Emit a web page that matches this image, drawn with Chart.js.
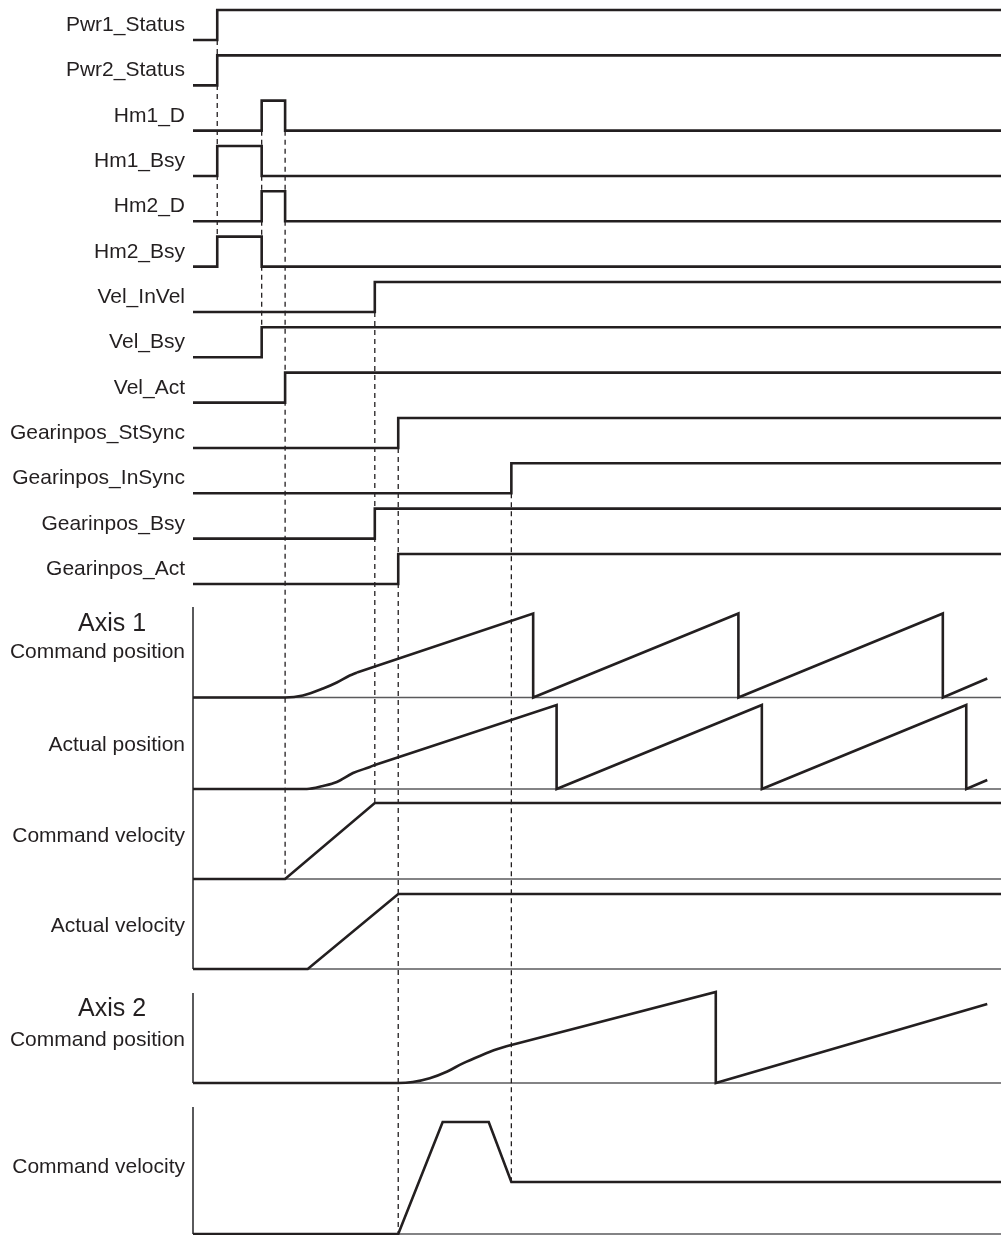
<!DOCTYPE html>
<html>
<head>
<meta charset="utf-8">
<script src="https://cdn.jsdelivr.net/npm/chart.js@4/dist/chart.umd.min.js"></script>
<style>
html,body{margin:0;padding:0;background:#fff;overflow:hidden}
#wrap{position:relative;width:1001px;height:1235px}
</style>
</head>
<body>
<div id="wrap"><canvas id="c"></canvas></div>
<script>
// ---------- DATA (time axis in arbitrary units 0..100) ----------
const digitalNames = ['Pwr1_Status','Pwr2_Status','Hm1_D','Hm1_Bsy','Hm2_D','Hm2_Bsy','Vel_InVel','Vel_Bsy','Vel_Act','Gearinpos_StSync','Gearinpos_InSync','Gearinpos_Bsy','Gearinpos_Act'];
// [time, level]
const pwr1Status = [[0,0],[3.0,1],[100,1]];
const pwr2Status = [[0,0],[3.0,1],[100,1]];
const hm1D       = [[0,0],[8.5,1],[11.4,0],[100,0]];
const hm1Bsy     = [[0,0],[3.0,1],[8.5,0],[100,0]];
const hm2D       = [[0,0],[8.5,1],[11.4,0],[100,0]];
const hm2Bsy     = [[0,0],[3.0,1],[8.5,0],[100,0]];
const velInVel   = [[0,0],[22.5,1],[100,1]];
const velBsy     = [[0,0],[8.5,1],[100,1]];
const velAct     = [[0,0],[11.4,1],[100,1]];
const gearStSync = [[0,0],[25.4,1],[100,1]];
const gearInSync = [[0,0],[39.4,1],[100,1]];
const gearBsy    = [[0,0],[22.5,1],[100,1]];
const gearAct    = [[0,0],[25.4,1],[100,1]];
const digitalSeries = [pwr1Status,pwr2Status,hm1D,hm1Bsy,hm2D,hm2Bsy,velInVel,velBsy,velAct,gearStSync,gearInSync,gearBsy,gearAct];

// analog traces, normalized 0..1 of each panel
const ax1CmdPosCurve = [[0,0],[11.4,0],[13.6,0.024],[16.1,0.107],[17.8,0.179],[19.4,0.262],[20.3,0.298]];
const ax1CmdPosSaw   = [[20.3,0.298],[42.1,1],[42.1,0],[67.5,1],[67.5,0],[92.8,1],[92.8,0],[98.3,0.226]];
const ax1ActPosCurve = [[0,0],[14.1,0],[16.1,0.036],[17.8,0.083],[19.8,0.19],[21.9,0.262],[22.5,0.286]];
const ax1ActPosSaw   = [[22.5,0.286],[45.0,1],[45.0,0],[70.4,1],[70.4,0],[95.7,1],[95.7,0],[98.3,0.107]];
const ax1CmdVel      = [[0,0],[11.4,0],[22.5,1],[100,1]];
const ax1ActVel      = [[0,0],[14.2,0],[25.4,1],[100,1]];
const ax2CmdPosCurve = [[0,0],[25.4,0],[27.2,0.011],[29.3,0.052],[31.4,0.124],[33.4,0.216],[35.5,0.297],[37.6,0.37],[39.4,0.418]];
const ax2CmdPosSaw   = [[39.4,0.418],[64.7,1],[64.7,0],[98.3,0.868]];
const ax2CmdVel      = [[0,0],[25.4,0],[30.9,1],[36.6,1],[39.4,0.464],[100,0.464]];

const analogNames = ['Command position','Actual position','Command velocity','Actual velocity','Command position','Command velocity'];
const groupNames = ['Axis 1','Axis 2'];

// event markers (dashed lines)
const markerTimes = [3.0, 8.5, 11.4, 22.5, 25.4, 39.4];

// ---------- LAYOUT (pixels) ----------
const LEFT = 193;
const DIG_BASE0 = 40, DIG_STEP = 45.33, DIG_AMP = 30;
const digBase = i => DIG_BASE0 + DIG_STEP * i;
const panels = [
  {base: 697.5, amp: 84, label: 658},
  {base: 789,   amp: 84, label: 751},
  {base: 879,   amp: 76, label: 842},
  {base: 969,   amp: 75, label: 932},
  {base: 1083,  amp: 91, label: 1046},
  {base: 1234,  amp: 112, label: 1173}
];
const groupLabelY = [631, 1016];
const axisFrames = [[607, 969], [993, 1083], [1107, 1234]];
// marker spans: from y to y
const markerSpans = [
  [digBase(0), digBase(5) - DIG_AMP],
  [digBase(2), digBase(7) - DIG_AMP],
  [digBase(2), panels[2].base],
  [digBase(6), panels[2].base - panels[2].amp],
  [digBase(9), panels[5].base],
  [digBase(10), panels[5].base - panels[5].amp * 0.464]
];

const INK = '#231f20';
const GRAY = '#5a5a5c';
const FONT = "'Liberation Sans', Arial, Helvetica, sans-serif";

const datasets = [];
digitalSeries.forEach((s, i) => {
  datasets.push({
    label: digitalNames[i],
    data: s.map(p => ({x: p[0], y: digBase(i) - p[1] * DIG_AMP})),
    stepped: 'before',
    borderColor: INK, borderWidth: 2.6, pointRadius: 0, fill: false,
    borderJoinStyle: 'miter', order: 0
  });
});
function analog(label, arr, panel, smooth) {
  datasets.push({
    label: label,
    data: arr.map(p => ({x: p[0], y: panel.base - p[1] * panel.amp})),
    borderColor: INK, borderWidth: 2.6, pointRadius: 0, fill: false,
    borderJoinStyle: 'miter',
    cubicInterpolationMode: smooth ? 'monotone' : 'default', tension: 0, order: 0
  });
}
analog('Axis 1 Command position', ax1CmdPosCurve, panels[0], true);
analog('Axis 1 Command position', ax1CmdPosSaw, panels[0], false);
analog('Axis 1 Actual position', ax1ActPosCurve, panels[1], true);
analog('Axis 1 Actual position', ax1ActPosSaw, panels[1], false);
analog('Axis 1 Command velocity', ax1CmdVel, panels[2], false);
analog('Axis 1 Actual velocity', ax1ActVel, panels[3], false);
analog('Axis 2 Command position', ax2CmdPosCurve, panels[4], true);
analog('Axis 2 Command position', ax2CmdPosSaw, panels[4], false);
analog('Axis 2 Command velocity', ax2CmdVel, panels[5], false);

markerTimes.forEach((t, i) => {
  datasets.push({
    label: 'marker ' + i,
    data: [{x: t, y: markerSpans[i][0]}, {x: t, y: markerSpans[i][1]}],
    borderColor: INK, borderWidth: 1.3, borderDash: [5, 4], pointRadius: 0, fill: false,
    order: 5
  });
});

const framePlugin = {
  id: 'frames',
  beforeDatasetsDraw(chart) {
    const ctx = chart.ctx, xs = chart.scales.x, ys = chart.scales.y;
    const x0 = xs.getPixelForValue(0), x1 = xs.getPixelForValue(100);
    ctx.save();
    ctx.strokeStyle = GRAY;
    ctx.lineWidth = 1.6;
    panels.forEach(p => {
      const y = ys.getPixelForValue(p.base);
      ctx.beginPath(); ctx.moveTo(x0, y); ctx.lineTo(x1, y); ctx.stroke();
    });
    ctx.lineWidth = 2;
    axisFrames.forEach(f => {
      ctx.beginPath();
      ctx.moveTo(x0, ys.getPixelForValue(f[0]));
      ctx.lineTo(x0, ys.getPixelForValue(f[1]));
      ctx.stroke();
    });
    ctx.restore();
  },
  afterDraw(chart) {
    const ctx = chart.ctx, ys = chart.scales.y;
    ctx.save();
    ctx.fillStyle = INK;
    ctx.textBaseline = 'alphabetic';
    ctx.textAlign = 'right';
    ctx.font = '21px ' + FONT;
    digitalNames.forEach((n, i) => ctx.fillText(n, 185, ys.getPixelForValue(digBase(i) - 9)));
    analogNames.forEach((n, i) => ctx.fillText(n, 185, ys.getPixelForValue(panels[i].label)));
    ctx.textAlign = 'center';
    ctx.font = '25px ' + FONT;
    groupNames.forEach((n, i) => ctx.fillText(n, 112, ys.getPixelForValue(groupLabelY[i])));
    ctx.restore();
  }
};

new Chart(document.getElementById('c'), {
  type: 'line',
  data: {datasets},
  options: {
    responsive: true,
    maintainAspectRatio: false,
    animation: false,
    devicePixelRatio: 1,
    events: [],
    layout: {padding: {left: LEFT, right: 0, top: 0, bottom: 0}},
    plugins: {legend: {display: false}, tooltip: {enabled: false}},
    scales: {
      x: {type: 'linear', min: 0, max: 100, display: false},
      y: {type: 'linear', min: 0, max: 1235, reverse: true, display: false}
    },
    elements: {line: {clip: false}}
  },
  plugins: [framePlugin]
});
</script>
</body>
</html>
